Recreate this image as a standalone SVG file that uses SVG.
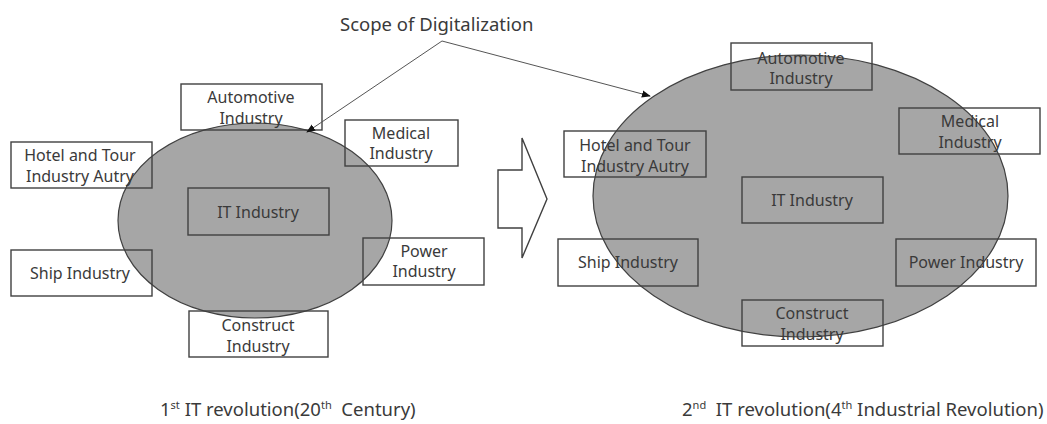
<svg xmlns="http://www.w3.org/2000/svg" width="1047" height="424" viewBox="0 0 1047 424">
  <style>
    .scope { fill: #a6a6a6; stroke: #404040; stroke-width: 1.2; }
    .box { fill: none; stroke: #404040; stroke-width: 1.4; }
    .lbl { font-family: "Noto Sans", "Liberation Sans", sans-serif; font-size: 16px; fill: #3a3a3a; text-anchor: middle; dominant-baseline: central; }
    .cap { font-family: "Noto Sans", "Liberation Sans", sans-serif; font-size: 18.5px; fill: #3a3a3a; }
    .title { font-family: "Noto Sans", "Liberation Sans", sans-serif; font-size: 18.5px; fill: #3a3a3a; }
    .sup { font-size: 11px; }
    .conn { stroke: #555; stroke-width: 1; fill: none; marker-end: url(#arrow); }
  </style>
  <defs>
    <marker id="arrow" viewBox="0 0 10 10" refX="9" refY="5" markerWidth="9" markerHeight="9" markerUnits="userSpaceOnUse" orient="auto">
      <path d="M0,1 L10,5 L0,9 z" fill="#111"/>
    </marker>
  </defs>
  <rect width="1047" height="424" fill="#fff"/>

  <!-- Left cluster: 20th century -->
  <g id="left-scope"><ellipse class="scope" cx="255" cy="220.5" rx="137" ry="97.5"/></g>
  <g id="l-auto"><rect class="box" x="181" y="84" width="141" height="46"/>
    <text class="lbl" x="251" y="97">Automotive</text><text class="lbl" x="251" y="118">Industry</text></g>
  <g id="l-medical"><rect class="box" x="345" y="120" width="113" height="46"/>
    <text class="lbl" x="401" y="133">Medical</text><text class="lbl" x="401" y="153">Industry</text></g>
  <g id="l-hotel"><rect class="box" x="11" y="142" width="141" height="46"/>
    <text class="lbl" x="80" y="155">Hotel and Tour</text><text class="lbl" x="80" y="176">Industry Autry</text></g>
  <g id="l-it"><rect class="box" x="188" y="188" width="141" height="47"/>
    <text class="lbl" x="258" y="212">IT Industry</text></g>
  <g id="l-ship"><rect class="box" x="11" y="250" width="141" height="46"/>
    <text class="lbl" x="80" y="273">Ship Industry</text></g>
  <g id="l-power"><rect class="box" x="363" y="238" width="121" height="47"/>
    <text class="lbl" x="424" y="251">Power</text><text class="lbl" x="424" y="271">Industry</text></g>
  <g id="l-construct"><rect class="box" x="189" y="311" width="139" height="46"/>
    <text class="lbl" x="258" y="325">Construct</text><text class="lbl" x="258" y="346">Industry</text></g>

  <!-- Transition block arrow -->
  <g id="transition"><path d="M498,170 L522,170 L522,138 L547,199 L522,258 L522,228 L498,228 Z" fill="#fff" stroke="#404040" stroke-width="1.4"/></g>

  <!-- Right cluster: 4th industrial revolution -->
  <g id="right-scope"><ellipse class="scope" cx="800.5" cy="196" rx="207.5" ry="141"/></g>
  <g id="r-auto"><rect class="box" x="731" y="43" width="141" height="47"/>
    <text class="lbl" x="801" y="58">Automotive</text><text class="lbl" x="801" y="78">Industry</text></g>
  <g id="r-medical"><rect class="box" x="899" y="108" width="141" height="46"/>
    <text class="lbl" x="970" y="121">Medical</text><text class="lbl" x="970" y="142">Industry</text></g>
  <g id="r-hotel"><rect class="box" x="564" y="131" width="142" height="46"/>
    <text class="lbl" x="635" y="145">Hotel and Tour</text><text class="lbl" x="635" y="166">Industry Autry</text></g>
  <g id="r-it"><rect class="box" x="742" y="177" width="141" height="46"/>
    <text class="lbl" x="812" y="200">IT Industry</text></g>
  <g id="r-ship"><rect class="box" x="558" y="239" width="140" height="47"/>
    <text class="lbl" x="628" y="262">Ship Industry</text></g>
  <g id="r-power"><rect class="box" x="896" y="239" width="140" height="47"/>
    <text class="lbl" x="966" y="262">Power Industry</text></g>
  <g id="r-construct"><rect class="box" x="742" y="300" width="141" height="46"/>
    <text class="lbl" x="812" y="313">Construct</text><text class="lbl" x="812" y="334">Industry</text></g>

  <!-- Callout label and its pointers -->
  <g id="scope-label"><text class="title" x="340" y="31">Scope of Digitalization</text></g>
  <g id="connectors">
    <line class="conn" x1="442" y1="41" x2="307" y2="132"/>
    <line class="conn" x1="442" y1="41" x2="650" y2="96"/>
  </g>

  <!-- Captions -->
  <g id="captions">
    <text class="cap" x="160" y="416" xml:space="preserve">1<tspan class="sup" dy="-7">st</tspan><tspan dy="7"> IT revolution(20</tspan><tspan class="sup" dy="-7">th</tspan><tspan dy="7">  Century)</tspan></text>
    <text class="cap" x="682" y="416" xml:space="preserve">2<tspan class="sup" dy="-7">nd</tspan><tspan dy="7">  IT revolution(4</tspan><tspan class="sup" dy="-7">th</tspan><tspan dy="7"> Industrial Revolution)</tspan></text>
  </g>
</svg>
